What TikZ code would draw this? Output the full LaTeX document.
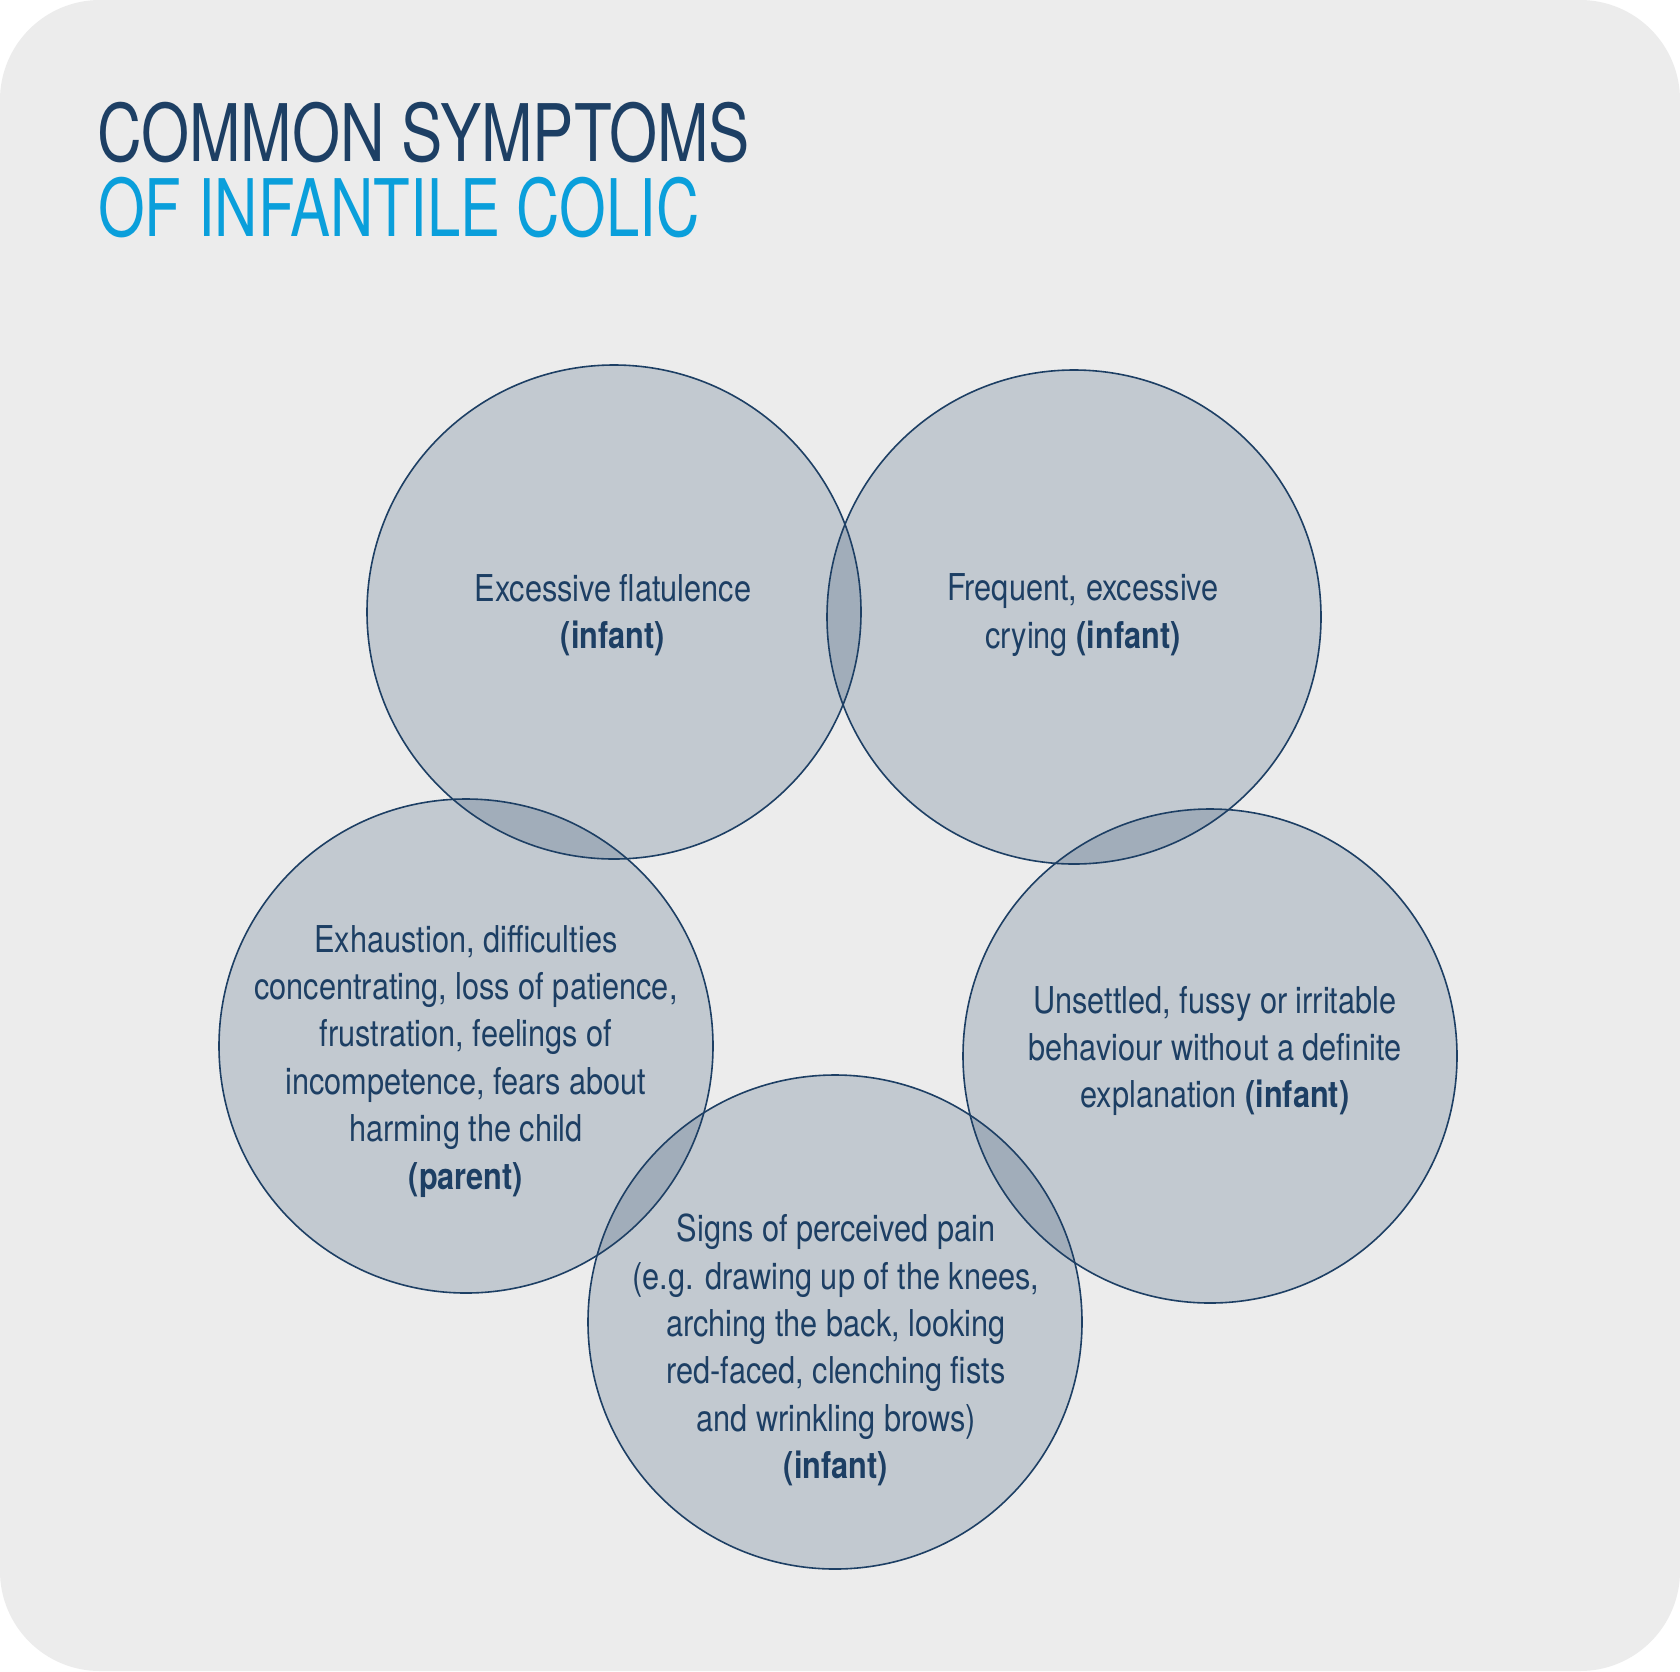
\documentclass[tikz,border=0pt]{standalone}
\usepackage{fontspec}
\newfontfamily\bodyfont{TeX Gyre Heros}[FakeStretch=0.83]
\newfontfamily\titlefont{TeX Gyre Heros}[FakeStretch=0.778]
\newfontfamily\subtitlefont{TeX Gyre Heros}[FakeStretch=0.755]
\definecolor{navy}{HTML}{1D3F64}
\definecolor{skyblue}{HTML}{0A9FDB}
\definecolor{panel}{HTML}{ECECEC}

\begin{document}
\begin{tikzpicture}[
      x=1pt, y=-1pt,
      sym_circle/.style={circle, draw=navy, line width=1.6pt, fill=navy, fill opacity=0.2, minimum size=494pt, inner sep=0pt},
      sym_text/.style={align=center, text=navy, inner sep=0pt, font=\bodyfont\fontsize{37}{47.4}\selectfont},
      title_line/.style={anchor=base west, inner sep=0pt, font=\titlefont\fontsize{79.4}{90}\selectfont}
  ]

  % panel
  \fill[white] (0,0) rectangle (1680,1671);
  \fill[panel, rounded corners=100pt] (0,0) rectangle (1680,1671);
  \useasboundingbox (0,0) rectangle (1680,1671);

  % title
  \node [title_line, text=navy] (title_top) at (97,161) {COMMON SYMPTOMS};
  \node [title_line, text=skyblue, font=\subtitlefont\fontsize{79.4}{90}\selectfont] (title_bottom) at (98,236) {OF INFANTILE COLIC};

  % circles
  \node [sym_circle] (flat) at (614,612) {};
  \node [sym_circle] (cry) at (1074,617) {};
  \node [sym_circle] (fuss) at (1210,1056) {};
  \node [sym_circle] (pain) at (835,1322) {};
  \node [sym_circle] (parent) at (466,1046) {};

  % texts
  \node [sym_text] (flat_txt) at (613,615) {Excessive flatulence\\\textbf{(infant)}};
  \node [sym_text] (cry_txt) at (1083,615) {Frequent, excessive\\crying \textbf{(infant)}};
  \node [sym_text] (fuss_txt) at (1215,1051) {Unsettled, fussy or irritable\\behaviour without a definite\\explanation \textbf{(infant)}};
  \node [sym_text] (pain_txt) at (836,1350) {Signs of perceived pain\\(e.g. drawing up of the knees,\\arching the back, looking\\red-faced, clenching fists\\and wrinkling brows)\\\textbf{(infant)}};
  \node [sym_text] (parent_txt) at (466,1061) {Exhaustion, difficulties\\concentrating, loss of patience,\\frustration, feelings of\\incompetence, fears about\\harming the child\\\textbf{(parent)}};

\end{tikzpicture}
\end{document}
